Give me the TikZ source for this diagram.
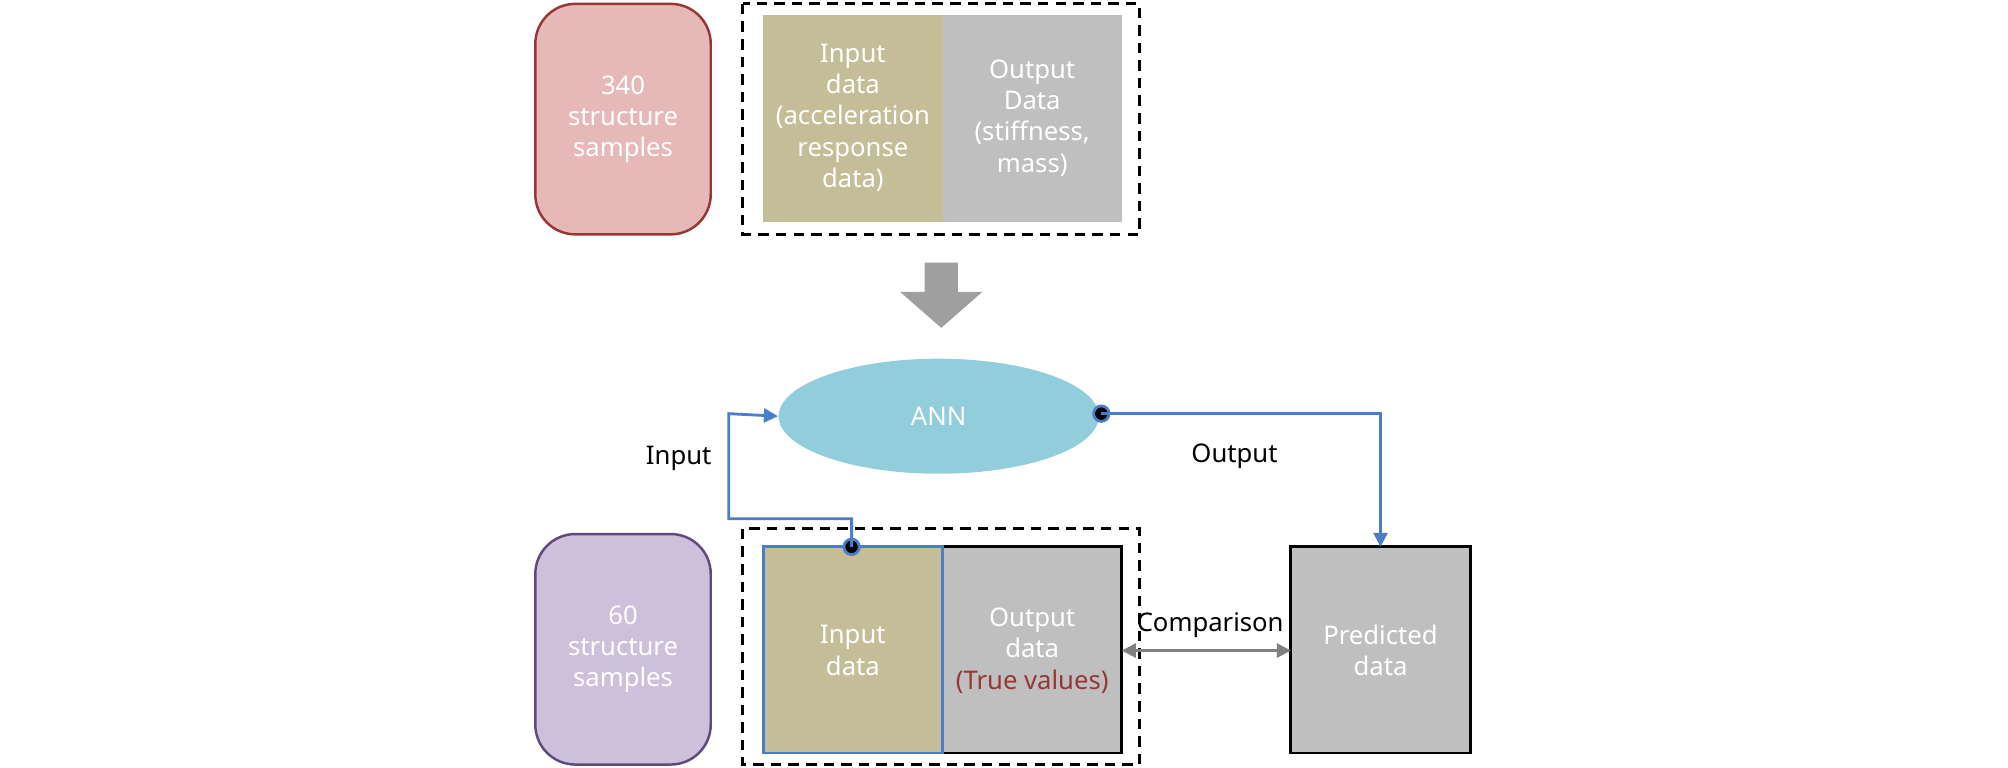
\documentclass[tikz,border=0pt]{standalone}
\usepackage{fontspec}
\setmainfont{Noto Sans}
\usetikzlibrary{arrows.meta,shapes.geometric}
\definecolor{redfill}{HTML}{E6B9B8}
\definecolor{redline}{HTML}{953735}
\definecolor{purfill}{HTML}{CCC0DA}
\definecolor{purline}{HTML}{604A7B}
\definecolor{tan}{HTML}{C4BD97}
\definecolor{greyfill}{HTML}{BFBFBF}
\definecolor{annfill}{HTML}{92CDDC}
\definecolor{link}{HTML}{4A7EC8}
\definecolor{truered}{HTML}{953735}
\tikzset{
  txt/.style={font=\fontsize{7.3}{8.9}\selectfont,align=center},
  sample/.style={txt,rounded corners=4mm,line width=0.7pt,text=white},
  datablk/.style={txt,text=white,inner sep=0pt},
  frame/.style={dashed,line width=0.9pt,dash pattern=on 3pt off 2pt},
  link/.style={draw=link,line width=0.8pt,-{Triangle[length=4pt,width=4pt]}}
}
\begin{document}
\begin{tikzpicture}[x=0.0128cm,y=-0.0128cm]
      \useasboundingbox (0,0) rectangle (1568,599);
      % upper row
      \draw[sample,fill=redfill,draw=redline] (418,3) rectangle (555,183);
      \node[txt,text=white] (s340) at (486.5,93) {340\\structure\\samples};
      \draw[frame] (580,3) rectangle (890,183);
      \fill[tan] (596,12) rectangle (736,173);
      \fill[greyfill] (736,12) rectangle (876,173);
      \node[datablk] (in1) at (666,92) {Input\\data\\(acceleration\\response\\data)};
      \node[datablk] (out1) at (806,92) {Output\\Data\\(stiffness,\\mass)};
      % big arrow
      \fill[gray!75] (722,205) -- (748,205) -- (748,228) -- (767,228) -- (735,256) -- (703,228) -- (722,228) -- cycle;
      % network
      \node[ellipse,fill=annfill,minimum width=250\pgflinewidth,inner sep=0pt,
            minimum width=3.2cm,minimum height=1.15cm,txt,text=white] (ann) at (733,325) {ANN};
      % lower row
      \draw[sample,fill=purfill,draw=purline] (418,417) rectangle (555,597);
      \node[txt,text=white] (s60) at (486.5,507) {60\\structure\\samples};
      \draw[frame] (580,413) rectangle (890,597);
      \draw[fill=greyfill,line width=0.8pt] (736,427) rectangle (876,588);
      \draw[fill=tan,draw=link,line width=0.8pt] (596,427) rectangle (736,588);
      \node[datablk] (in2) at (666,508) {Input\\data};
      \node[datablk] (out2) at (806,508) {Output\\data\\\textcolor{truered}{\textbf{(True values)}}};
      \draw[fill=greyfill,line width=0.8pt] (1008,427) rectangle (1148,588);
      \node[datablk] (pred) at (1078,508) {Predicted\\data};
      % connectors
      \coordinate (inDot) at (665,427);
      \coordinate (outDot) at (860,323);
      \coordinate (predTop) at (1078,427);
      \fill[link] (inDot) circle (2.2pt) (outDot) circle (2.2pt);
      \draw[link] (inDot) -- (665,405) -- (569,405) -- (569,323) -- (ann.west);
      \draw[link] (outDot) -- (1078,323) -- (predTop);
      \node[txt] (inlbl) at (530,358) {Input};
      \node[txt] (outlbl) at (964,356) {Output};
      \coordinate (outR) at (876,508);
      \coordinate (predL) at (1008,508);
      \draw[gray,line width=0.8pt,{Triangle[length=4pt,width=4pt]}-{Triangle[length=4pt,width=4pt]}] (outR) -- (predL);
      \node[txt] (cmp) at (945,488) {Comparison};
\end{tikzpicture}
\end{document}
